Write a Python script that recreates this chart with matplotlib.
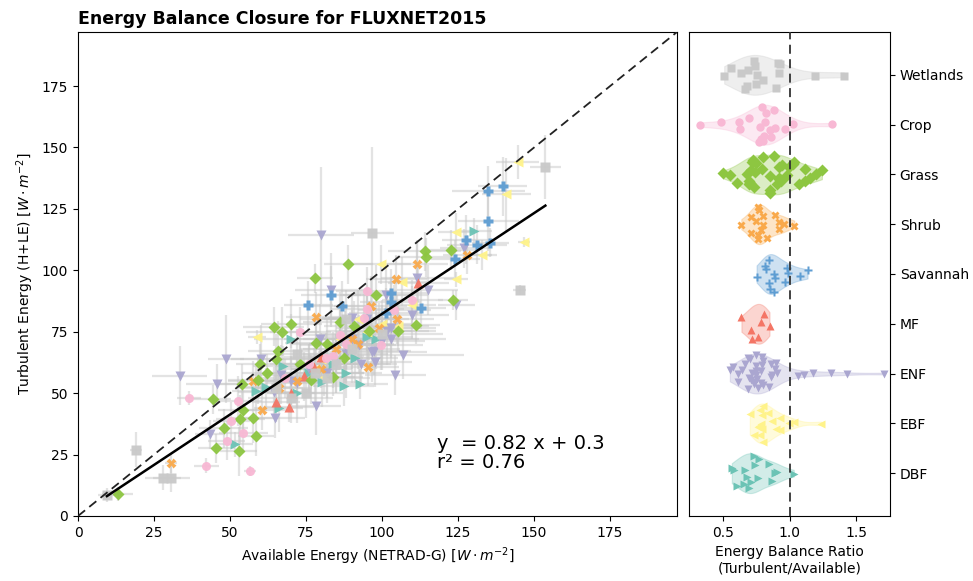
import numpy as np
import matplotlib.pyplot as plt

# biome order from bottom to top of the ratio panel
biomes = ['DBF', 'EBF', 'ENF', 'MF', 'Savannah', 'Shrub', 'Grass', 'Crop', 'Wetlands']
markers = ['>', '<', 'v', '^', 'P', 'X', 'D', 'o', 's']
colors = ['#6cc3b5', '#fff38a', '#aaa6d0', '#f47565', '#5e9dd2',
          '#f9a94b', '#8dc641', '#f8b8d4', '#c9c9c9']

# rows: available energy, turbulent energy, x error, y error  [W m-2]
dbf = [(70, 72.1, 12, 10), (95.1, 72.9, 15, 12), (67.5, 61, 10, 8), (58.6, 50.9, 8, 10),
       (51.5, 29.1, 6, 5), (80.4, 54.4, 12, 10), (87.5, 52.9, 10, 8), (92.8, 53.7, 9, 6),
       (91.1, 64.3, 14, 10), (61.9, 52.3, 10, 8), (130.3, 116.2, 6, 5), (72, 50, 10, 12),
       (84, 62, 12, 10), (76, 58, 10, 8), (98, 72, 14, 12), (66, 44, 8, 10), (88, 58, 12, 10)]
ebf = [(58.9, 72.9, 3, 3), (81, 56.7, 10, 8), (144.6, 144.1, 7, 7), (140.9, 130.9, 8, 15),
       (124.4, 115.4, 6, 8), (146.8, 111.5, 2, 2), (132.7, 106.3, 5, 6), (99.6, 102.5, 10, 8),
       (106.7, 95.3, 8, 10), (124.4, 96.4, 4, 3), (109.7, 85.8, 8, 8), (105.3, 77.3, 10, 8),
       (88, 70, 12, 10), (95, 75, 10, 8), (80, 64, 10, 8), (92, 80, 12, 12), (100, 78, 10, 10),
       (86, 72, 8, 8), (78, 60, 8, 6)]
enf = [(83.2, 91.9, 12, 15), (90.2, 80.7, 10, 10), (79.6, 72.1, 12, 14), (60.2, 63.9, 10, 14),
       (48.7, 63.9, 6, 18), (66.9, 57.4, 10, 12), (33.4, 57.1, 9, 12), (45.6, 53.7, 10, 8),
       (64.6, 50.5, 12, 10), (78.4, 44.8, 8, 12), (64.8, 39.8, 10, 8), (43.5, 33.2, 5, 6),
       (87.9, 69.4, 15, 14), (92.5, 69.7, 12, 12), (96.8, 66.7, 18, 12), (70, 55, 12, 10),
       (79.9, 114.2, 11, 28), (127.1, 109, 8, 8), (111.6, 97, 12, 15), (124.4, 85.8, 6, 6),
       (101.2, 89.9, 14, 12), (101.7, 75.5, 16, 14), (103, 72.1, 18, 10), (100.1, 71.4, 14, 12),
       (107, 65.6, 20, 10), (104.3, 57.4, 10, 8), (97.4, 67.3, 12, 10), (102.8, 76.5, 15, 12),
       (97.7, 62.6, 12, 10), (85, 62, 14, 12), (90, 72, 16, 12), (72, 54, 10, 10),
       (95, 80, 14, 12), (110, 82, 12, 10), (82, 58, 12, 10), (76, 60, 10, 10),
       (88, 66, 14, 12), (115, 92, 10, 10), (93, 62, 12, 8)]
mf = [(65.1, 46.4, 8, 8), (69.5, 44.3, 8, 6), (77.5, 60.5, 10, 8), (74.4, 56.9, 10, 10),
      (79.9, 64.6, 12, 10), (111.9, 94.9, 10, 8), (70, 50, 8, 8)]
savannah = [(83.2, 89.8, 10, 12), (75.7, 85.8, 8, 10), (86.9, 85.6, 10, 10), (139.7, 134.3, 8, 12),
            (134.9, 132.3, 12, 10), (134.9, 120, 10, 12), (127.6, 112.4, 8, 10),
            (135.6, 111.3, 6, 6), (131.2, 110.4, 10, 8), (124.1, 104.5, 8, 8),
            (103, 90.6, 12, 10), (102.8, 87.2, 10, 10), (101.2, 82.6, 12, 10), (112.9, 84.8, 8, 8)]
shrub = [(78.4, 81.1, 10, 10), (96.3, 85.6, 12, 12), (57.4, 55, 8, 8), (60.6, 43, 8, 8),
         (30.5, 21.6, 2, 4), (95.5, 60.8, 10, 8), (128, 106.3, 8, 8), (111.6, 102.5, 10, 10),
         (104.7, 96.4, 10, 10), (99, 76.5, 14, 10), (85, 68, 12, 10), (72, 55, 10, 8),
         (90, 72, 12, 10), (66, 52, 8, 8), (105, 80, 12, 10), (80, 60, 10, 8), (92, 70, 12, 10)]
grass = [(88.9, 102.5, 8, 8), (77.9, 96.7, 6, 6), (64.3, 77, 10, 8), (70.2, 78.3, 10, 10),
         (67.2, 75, 12, 10), (86.1, 79, 12, 12), (90.8, 77.5, 10, 10), (95.7, 75.5, 14, 12),
         (78.2, 70.5, 10, 10), (65.9, 67.3, 10, 12), (65.2, 63.9, 12, 10), (44.3, 47.5, 6, 6),
         (54, 53.7, 8, 8), (59.3, 55.4, 10, 10), (54.1, 43.2, 8, 8), (53.4, 39.3, 8, 10),
         (57.4, 39.8, 8, 10), (47.9, 35.7, 8, 8), (58.6, 32.5, 6, 8), (45.5, 27.5, 6, 6),
         (52.8, 26.4, 6, 10), (13, 9, 5, 3), (76.6, 55.4, 12, 10), (83.7, 56.7, 10, 8),
         (87.5, 64.3, 12, 10), (114.1, 107.7, 12, 8), (114.3, 105.3, 10, 8), (122.8, 108.3, 8, 8),
         (123.3, 87.8, 5, 4), (111.2, 77.9, 8, 8), (105.3, 75.1, 10, 8), (73, 62, 10, 8),
         (82, 70, 12, 10), (98, 90, 12, 12), (62, 58, 8, 8), (60, 62, 8, 8)]
crop = [(95, 91.4, 10, 10), (95.1, 84.1, 12, 10), (73.1, 75, 10, 10), (86.1, 73.8, 12, 10),
        (36.4, 48, 4, 3), (52.5, 46.8, 8, 10), (50.4, 38.6, 6, 8), (54.4, 33.6, 8, 8),
        (48.9, 30.7, 6, 8), (42.2, 20.5, 4, 3), (56.6, 18.4, 2, 2), (81.7, 64.3, 12, 10),
        (99.6, 69.4, 14, 10), (94.1, 80.5, 12, 10), (88, 70, 12, 10), (76, 62, 10, 8),
        (104, 84, 12, 10), (68, 56, 8, 8), (84, 65, 10, 10), (110, 88, 10, 8)]
wetlands = [(96.8, 115.2, 7, 35), (153.7, 142.1, 5, 13), (145.2, 92.1, 2, 2), (19.2, 27, 2, 7),
            (27.9, 15.6, 6, 5), (30.7, 15.6, 6, 6), (9.5, 8.5, 3, 3), (70, 48, 14, 10),
            (78, 58, 16, 12), (85, 62, 18, 12), (90, 68, 16, 14), (75, 50, 12, 10),
            (100, 74, 20, 12), (65, 52, 12, 10), (88, 80, 15, 12), (72, 66, 12, 10), (82, 56, 14, 10)]

data = [dbf, ebf, enf, mf, savannah, shrub, grass, crop, wetlands]

# fitted closure line shown in the annotation
slope, intercept, r2 = 0.82, 0.3, 0.76

fig = plt.figure(figsize=(9.73, 5.81), dpi=100)
ax = fig.add_axes([0.0802, 0.1119, 0.6156, 0.8330])
ax2 = fig.add_axes([0.7081, 0.1119, 0.2066, 0.8330])

# --- scatter with error bars ---
all_x = []
for rows, m, c in zip(data, markers, colors):
    arr = np.array(rows)
    ax.errorbar(arr[:, 0], arr[:, 1], xerr=arr[:, 2], yerr=arr[:, 3], fmt='none',
                ecolor='#c8c8c8', alpha=0.5, elinewidth=1.6, zorder=1)
    all_x.extend(arr[:, 0])
for rows, m, c in zip(data, markers, colors):
    arr = np.array(rows)
    ax.plot(arr[:, 0], arr[:, 1], ls='none', marker=m, color=c, ms=6.5,
            mec='none', alpha=0.95, zorder=3)

ax.axline((0, 0), slope=1, color='#222222', ls=(0, (5, 3)), lw=1.3, zorder=4)
xfit = np.array([min(all_x), max(all_x)])
ax.plot(xfit, slope * xfit + intercept, color='black', lw=1.8, zorder=5)
ax.text(118, 19.5, f'y  = {slope} x + {intercept}\nr² = {r2}', fontsize=14,
        linespacing=1.0)

ax.set_xlim(0, 197)
ax.set_ylim(0, 197)
ax.set_xticks(np.arange(0, 176, 25))
ax.set_yticks(np.arange(0, 176, 25))
ax.set_xlabel(r'Available Energy (NETRAD-G) [$W \cdot m^{-2}$]')
ax.set_ylabel(r'Turbulent Energy (H+LE) [$W \cdot m^{-2}$]')
ax.set_title('Energy Balance Closure for FLUXNET2015', loc='left',
             fontweight='bold', fontsize=12.5)

# --- energy balance ratio violins ---
for i, (rows, m, c) in enumerate(zip(data, markers, colors)):
    arr = np.array(rows)
    ratio = arr[:, 1] / arr[:, 0]
    bw = ratio.std(ddof=1) * len(ratio) ** (-0.2)

    def dens(v):
        v = np.atleast_1d(v)
        return np.exp(-0.5 * ((v[:, None] - ratio[None, :]) / bw) ** 2).sum(axis=1)

    grid = np.linspace(ratio.min(), ratio.max(), 200)
    d = dens(grid)
    scale = 0.4 / d.max()
    ax2.fill_between(grid, i - d * scale, i + d * scale, color=c, alpha=0.3, lw=0.8,
                     edgecolor=c, zorder=1)
    u = ((np.arange(len(ratio)) * 0.618034 + 0.31) % 1) * 2 - 1
    off = u * dens(ratio) * scale * 0.95
    ax2.plot(ratio, i + off, ls='none', marker=m, color=c, ms=6, mec='none', zorder=3)

ax2.axvline(1.0, color='#333333', ls=(0, (5, 3)), lw=1.3, zorder=4)
ax2.set_xlim(0.244, 1.752)
ax2.set_ylim(-0.86, 8.86)
ax2.set_xticks([0.5, 1.0, 1.5])
ax2.set_yticks(range(len(biomes)))
ax2.set_yticklabels(biomes)
ax2.yaxis.tick_right()
ax2.set_xlabel('Energy Balance Ratio\n(Turbulent/Available)')

fig.savefig('out.png', dpi=100)
